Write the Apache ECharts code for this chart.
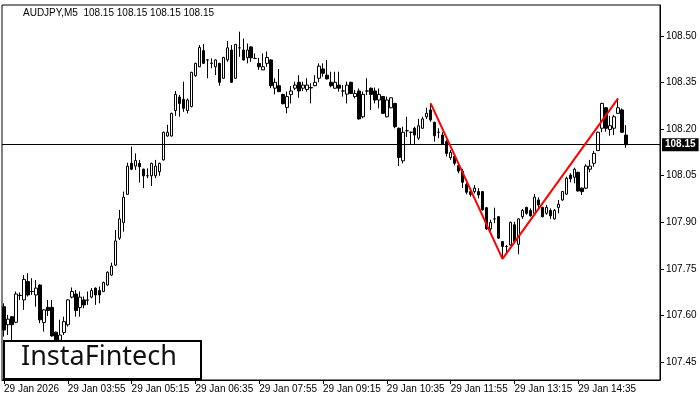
<!DOCTYPE html>
<html><head><meta charset="utf-8">
<script src="https://cdn.jsdelivr.net/npm/echarts@6/dist/echarts.min.js"></script>
<style>html,body{margin:0;padding:0;background:#fff}#c{width:700px;height:400px}</style>
</head><body><div id="c"></div>
<script>
const opens = [107.628,107.570,107.596,107.578,107.664,107.650,107.709,107.677,107.666,107.698,
107.577,107.626,107.626,107.546,107.520,107.545,107.570,107.659,107.669,107.625,
107.650,107.650,107.659,107.688,107.680,107.677,107.698,107.730,107.762,107.849,
107.899,107.990,108.090,108.081,108.090,108.071,108.050,108.050,108.050,108.063,
108.101,108.178,108.178,108.260,108.303,108.296,108.260,108.273,108.372,108.401,
108.453,108.423,108.413,108.401,108.412,108.364,108.423,108.455,108.364,108.462,
108.455,108.430,108.465,108.428,108.412,108.391,108.412,108.423,108.332,108.340,
108.312,108.270,108.312,108.332,108.351,108.332,108.328,108.334,108.340,108.364,
108.394,108.374,108.351,108.332,108.342,108.323,108.313,108.351,108.305,108.323,
108.240,108.323,108.332,108.323,108.294,108.305,108.240,108.269,108.283,108.203,
108.098,108.195,108.190,108.203,108.171,108.203,108.240,108.262,108.222,108.190,
108.181,108.160,108.108,108.112,108.083,108.065,108.022,107.999,107.999,107.999,
107.999,107.947,107.879,107.911,107.918,107.838,107.822,107.827,107.892,107.829,
107.918,107.948,107.938,107.929,107.972,107.948,107.929,107.938,107.911,107.948,
107.972,107.991,108.052,108.045,108.061,108.010,108.010,108.071,108.090,108.131,
108.203,108.269,108.199,108.203,108.251,108.262,108.181];
const closes = [107.553,107.588,107.570,107.669,107.665,107.716,107.666,107.677,107.688,107.586,
107.618,107.616,107.534,107.515,107.537,107.580,107.650,107.677,107.616,107.659,
107.634,107.649,107.680,107.666,107.666,107.706,107.739,107.759,107.840,107.911,
107.981,108.081,108.071,108.099,108.079,108.050,108.050,108.090,108.081,108.090,
108.190,108.190,108.251,108.312,108.283,108.267,108.294,108.383,108.412,108.463,
108.412,108.423,108.412,108.423,108.351,108.431,108.462,108.351,108.473,108.462,
108.423,108.455,108.430,108.428,108.401,108.401,108.431,108.340,108.351,108.321,
108.282,108.305,108.323,108.342,108.323,108.342,108.342,108.333,108.351,108.403,
108.380,108.362,108.340,108.351,108.332,108.323,108.342,108.315,108.315,108.233,
108.312,108.323,108.312,108.294,108.312,108.251,108.294,108.301,108.208,108.109,
108.190,108.195,108.190,108.181,108.211,108.233,108.251,108.230,108.179,108.190,
108.151,108.122,108.125,108.090,108.065,108.029,107.997,107.990,108.010,107.988,
107.940,107.879,107.900,107.911,107.849,107.822,107.822,107.900,107.838,107.911,
107.938,107.929,107.921,107.981,107.956,107.918,107.948,107.921,107.938,107.958,
107.999,108.042,108.040,108.071,108.001,107.999,108.081,108.081,108.122,108.190,
108.283,108.203,108.211,108.240,108.269,108.190,108.150];
const lows = [107.532,107.537,107.521,107.575,107.650,107.618,107.661,107.666,107.628,107.575,
107.548,107.598,107.532,107.505,107.510,107.537,107.564,107.655,107.596,107.596,
107.623,107.634,107.655,107.634,107.639,107.675,107.696,107.728,107.760,107.843,
107.870,107.989,108.068,108.069,108.028,108.010,108.042,108.017,108.042,108.050,
108.099,108.176,108.176,108.243,108.240,108.256,108.251,108.270,108.369,108.400,
108.410,108.364,108.396,108.374,108.340,108.362,108.417,108.349,108.362,108.433,
108.421,108.412,108.417,108.426,108.391,108.390,108.401,108.332,108.312,108.319,
108.280,108.251,108.283,108.326,108.301,108.323,108.321,108.283,108.338,108.351,
108.369,108.360,108.335,108.330,108.321,108.305,108.283,108.313,108.299,108.231,
108.235,108.310,108.262,108.283,108.267,108.249,108.238,108.267,108.203,108.081,
108.090,108.175,108.151,108.151,108.165,108.201,108.233,108.224,108.160,108.171,
108.149,108.112,108.101,108.083,108.058,108.010,107.990,107.983,107.993,107.977,
107.938,107.875,107.870,107.897,107.847,107.782,107.800,107.825,107.836,107.797,
107.911,107.924,107.918,107.926,107.947,107.916,107.924,107.911,107.909,107.929,
107.969,107.988,108.029,108.026,107.999,107.988,108.007,108.061,108.079,108.130,
108.190,108.192,108.179,108.181,108.249,108.188,108.140];
const highs = [107.639,107.602,107.598,107.677,107.674,107.730,107.736,107.720,107.714,107.700,
107.620,107.650,107.650,107.548,107.586,107.596,107.652,107.690,107.682,107.677,
107.661,107.677,107.688,107.690,107.693,107.709,107.742,107.770,107.875,107.940,
107.999,108.092,108.144,108.122,108.101,108.073,108.074,108.092,108.101,108.092,
108.192,108.214,108.253,108.323,108.310,108.353,108.299,108.385,108.414,108.471,
108.474,108.425,108.428,108.425,108.414,108.433,108.484,108.471,108.475,108.514,
108.492,108.476,108.467,108.444,108.430,108.444,108.450,108.425,108.364,108.394,
108.314,108.321,108.339,108.353,108.374,108.353,108.364,108.348,108.374,108.412,
108.412,108.423,108.385,108.385,108.385,108.342,108.353,108.353,108.326,108.331,
108.321,108.364,108.334,108.334,108.331,108.307,108.305,108.303,108.285,108.205,
108.208,108.240,108.192,108.208,108.233,108.240,108.269,108.283,108.224,108.203,
108.190,108.165,108.133,108.117,108.090,108.072,108.029,108.007,108.020,108.010,
108.001,107.949,107.908,107.947,107.920,107.840,107.827,107.902,107.902,107.913,
107.943,107.950,107.945,107.991,107.980,107.950,107.956,107.945,107.943,107.972,
108.001,108.047,108.058,108.076,108.063,108.012,108.087,108.101,108.130,108.192,
108.285,108.271,108.243,108.246,108.299,108.267,108.213];
const xTickLabels = ['29 Jan 2026','29 Jan 03:55','29 Jan 05:15','29 Jan 06:35','29 Jan 07:55',
  '29 Jan 09:15','29 Jan 10:35','29 Jan 11:55','29 Jan 13:15','29 Jan 14:35'];
const yTicks = [107.45,107.60,107.75,107.90,108.05,108.20,108.35,108.50];
const patternPoints = [[107,108.283],[125,107.782],[154,108.299]];
const lastPrice = 108.15;
const headerText = 'AUDJPY,M5  108.15 108.15 108.15 108.15';

const TICK_EVERY = 16, TOTAL_SLOTS = 165;
const categories = [];
for (let i = 0; i < TOTAL_SLOTS; i++) {
  categories.push(i % TICK_EVERY === 0 && xTickLabels[i / TICK_EVERY] ? xTickLabels[i / TICK_EVERY] : '');
}
const candleData = opens.map((o, i) => [o, closes[i], lows[i], highs[i]]);
const redLine = new Array(opens.length).fill(null);
patternPoints.forEach(p => { redLine[p[0]] = p[1]; });

const FONT = "'Liberation Sans', Arial, sans-serif";
const chart = echarts.init(document.getElementById('c'), null, {renderer: 'canvas'});
chart.setOption({
  animation: false,
  backgroundColor: '#fff',
  title: {text: headerText, left: 18, top: 3,
    textStyle: {fontSize: 10, fontWeight: 'normal', color: '#000', fontFamily: FONT}},
  grid: {left: 2, right: 40, top: 5, bottom: 20, show: true, borderColor: '#000', borderWidth: 1, backgroundColor: '#fff'},
  xAxis: {
    type: 'category', data: categories, boundaryGap: true,
    axisLine: {show: true, lineStyle: {color: '#000'}},
    axisTick: {show: true, alignWithLabel: true, length: 4, lineStyle: {color: '#000'},
      interval: function (idx) { return idx % TICK_EVERY === 0 && idx / TICK_EVERY < xTickLabels.length; }},
    axisLabel: {interval: 0, align: 'left', margin: 4, fontSize: 10, color: '#000', fontFamily: FONT},
    splitLine: {show: false}
  },
  yAxis: {
    type: 'value', position: 'right', min: 107.392, max: 108.60, scale: true,
    axisLine: {show: true, lineStyle: {color: '#000'}},
    axisTick: {show: true, length: 4, lineStyle: {color: '#000'}, customValues: yTicks},
    axisLabel: {customValues: yTicks, formatter: v => v.toFixed(2), margin: 6, fontSize: 10, color: '#000', fontFamily: FONT},
    splitLine: {show: false}
  },
  series: [
    {
      type: 'candlestick', data: candleData, barWidth: 3,
      itemStyle: {color: '#fff', color0: '#000', borderColor: '#000', borderColor0: '#000', borderWidth: 1},
      markLine: {
        silent: true, symbol: ['none', 'none'],
        lineStyle: {color: '#000', width: 1, type: 'solid'},
        label: {show: true, position: 'end', distance: 2, formatter: () => lastPrice.toFixed(2),
          backgroundColor: '#000', color: '#fff', padding: [2, 3, 1, 3], fontSize: 10, fontWeight: 'bold', fontFamily: FONT},
        data: [{yAxis: lastPrice}]
      }
    },
    {
      type: 'line', data: redLine, connectNulls: true, symbol: 'none',
      lineStyle: {color: '#ff0000', width: 2}, z: 5
    }
  ],
  graphic: [
    {type: 'rect', z: 100, left: 3, top: 340, shape: {width: 197, height: 38},
      style: {fill: '#fff', stroke: '#000', lineWidth: 2}},
    {type: 'text', z: 101, left: 21, top: 344,
      style: {text: 'InstaFintech', fontSize: 27, fontWeight: 'normal', fontFamily: "'Noto Sans', sans-serif", fill: '#111'}}
  ]
});
</script></body></html>
